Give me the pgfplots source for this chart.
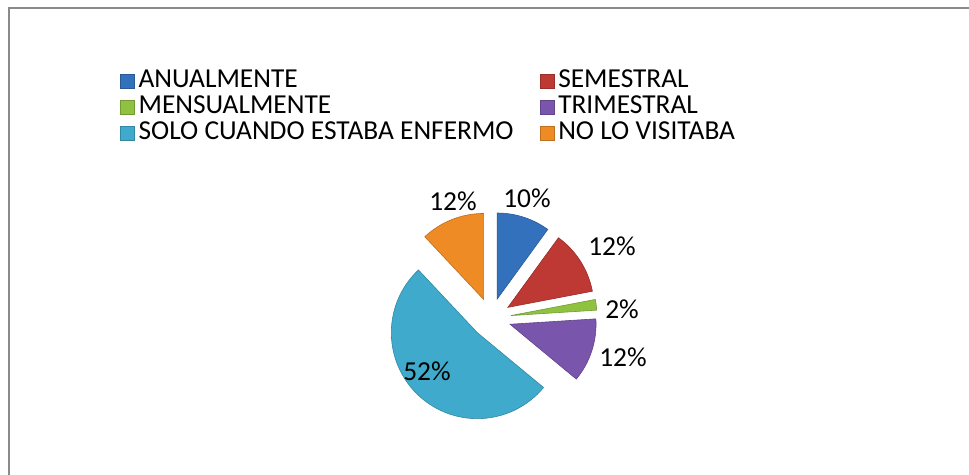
\documentclass[border=0pt]{standalone}
\usepackage{fontspec}
\setmainfont{Carlito}
\usepackage{pgfplots}
\pgfplotsset{compat=1.18}

\definecolor{cA}{HTML}{3471BC}
\definecolor{cS}{HTML}{BE3834}
\definecolor{cM}{HTML}{8FC240}
\definecolor{cT}{HTML}{7A55AC}
\definecolor{cO}{HTML}{3FAACB}
\definecolor{cN}{HTML}{EF8B25}
\definecolor{frame}{HTML}{8A8A8A}

% pie geometry in picture pixels: centre (491,156), radius 86, explode 20
\newcommand{\slice}[4]{%
  \pgfmathsetmacro{\sa}{90-3.6*#1}%
  \pgfmathsetmacro{\ea}{90-3.6*(#1+#2)}%
  \pgfmathsetmacro{\ma}{(\sa+\ea)/2}%
  \pgfmathsetmacro{\tx}{491+20*cos(\ma)}%
  \pgfmathsetmacro{\ty}{156+20*sin(\ma)}%
  \edef\doit{\noexpand\addplot[fill=#3, draw=#3!80!black, line width=0.3pt,
      domain=\ea:\sa, samples=60, variable=\noexpand\t]
      ({\tx+86*cos(\noexpand\t)}, {\ty+86*sin(\noexpand\t)}) -- (\tx,\ty) -- cycle;}%
  \doit
  \addlegendentry{#4}%
}

\begin{document}
\begin{tikzpicture}
\begin{axis}[
  scale only axis, width=484.5pt, height=237pt,
  xmin=0, xmax=969, ymin=0, ymax=474,
  axis line style={draw=none}, ticks=none,
  legend columns=2,
  legend cell align=left,
  legend image code/.code={\draw[#1, line width=0.3pt] (0pt,-3.5pt) rectangle (7pt,3.5pt);},
  legend style={at={(axis cs:120,406)}, anchor=north west, draw=none, fill=none,
    inner sep=0pt, outer sep=0pt,
    font=\fontsize{13.7}{15}\selectfont,
    nodes={text height=9pt, text depth=3pt, inner sep=0.5pt},
    /tikz/every odd column/.append style={column sep=1.5pt},
    /tikz/every even column/.append style={column sep=12.5pt}},
]
\addplot[draw=frame, line width=1pt, forget plot] coordinates {(9.3,-20) (9.3,466) (1000,466)};

\slice{0}{10}{cA}{ANUALMENTE}
\slice{10}{12}{cS}{SEMESTRAL}
\slice{22}{2}{cM}{MENSUALMENTE}
\slice{24}{12}{cT}{TRIMESTRAL}
\slice{36}{52}{cO}{SOLO CUANDO ESTABA ENFERMO}
\slice{88}{12}{cN}{NO LO VISITABA}

\node[font=\fontsize{13.7}{15}\selectfont] at (axis cs:527,276) {10\%};
\node[font=\fontsize{13.7}{15}\selectfont] at (axis cs:612,228) {12\%};
\node[font=\fontsize{13.7}{15}\selectfont] at (axis cs:622,165) {2\%};
\node[font=\fontsize{13.7}{15}\selectfont] at (axis cs:623,117) {12\%};
\node[font=\fontsize{13.7}{15}\selectfont] at (axis cs:427,103) {52\%};
\node[font=\fontsize{13.7}{15}\selectfont] at (axis cs:453,273) {12\%};
\end{axis}
\end{tikzpicture}
\end{document}
